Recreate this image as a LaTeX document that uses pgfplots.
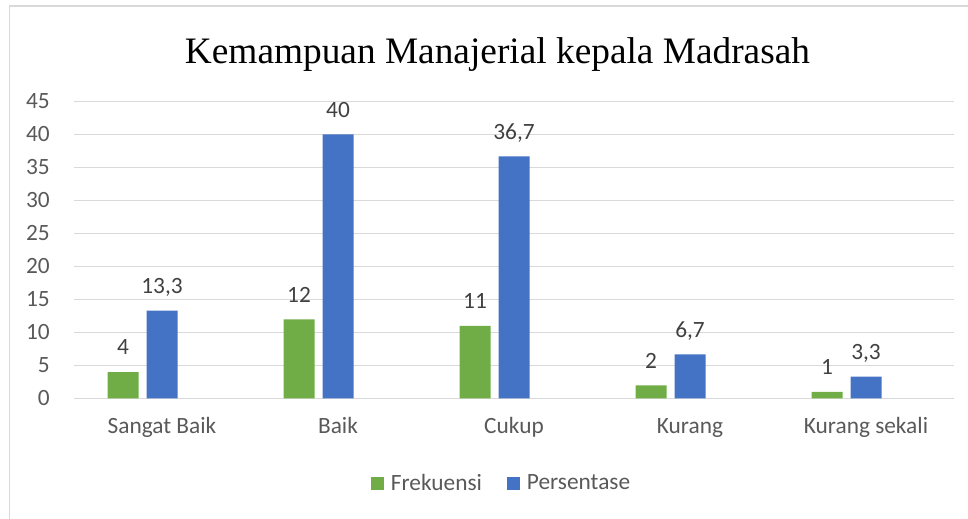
\documentclass[border=0pt]{standalone}
\usepackage{fontspec}
\setmainfont{Carlito}
\newfontfamily\titlefont{Liberation Serif}
\usepackage{pgfplots}
\usepackage{pgfplotstable}
\pgfplotsset{compat=1.18}
\definecolor{cgreen}{HTML}{70AD47}
\definecolor{cblue}{HTML}{4472C4}
\definecolor{tickgray}{HTML}{595959}
\definecolor{labgray}{HTML}{404040}
\definecolor{gridgray}{HTML}{D9D9D9}
\pgfplotstableread{
x y lab
0 4 4
1 12 12
2 11 11
3 2 2
4 1 1
}\frek
\pgfplotstableread{
x y lab
0 13.3 13,3
1 40 40
2 36.7 36,7
3 6.7 6,7
4 3.3 3,3
}\pers
\begin{document}
\begin{tikzpicture}
\path[use as bounding box] (0,0) rectangle (726pt,388.5pt);
\draw[gridgray, line width=1.2pt] (7.1pt,-2pt) -- (7.1pt,384pt) -- (730pt,384pt);
\node[font=\titlefont\fontsize{28}{32}\selectfont, anchor=base, inner sep=0pt] at (373.1pt,340.5pt) {Kemampuan Manajerial kepala Madrasah};
\begin{axis}[
  at={(55.5pt,89.625pt)}, anchor=south west,
  scale only axis, width=660pt, height=222.75pt,
  ybar, bar width=23.25pt,
  xmin=-0.5, xmax=4.5, ymin=0, ymax=45,
  xtick={0,...,4}, xticklabels={Sangat Baik,Baik,Cukup,Kurang,Kurang sekali},
  ytick={0,5,...,45},
  axis line style={draw=none},
  major tick length=0pt,
  ymajorgrids, grid style={gridgray, line width=0.75pt},
  /pgf/number format/assume math mode=true,
  ticklabel style={font=\fontsize{17.5}{21}\selectfont, text=tickgray},
  yticklabel style={anchor=east, inner sep=0pt, xshift=-18pt},
  xticklabel style={anchor=base, inner sep=0pt, yshift=-26.6pt},
  nodes near coords, point meta=explicit symbolic,
  every node near coord/.append style={font=\fontsize{17.5}{21}\selectfont, text=labgray, inner sep=0pt, text depth=0pt, yshift=12.75pt},
  legend columns=2,
  legend style={at={(0.5,0)}, anchor=center, xshift=-10.1pt, yshift=-63.4pt, draw=none, fill=none,
    font=\fontsize{17.5}{21}\selectfont, text=tickgray, nodes={inner sep=0pt},
    /tikz/every odd column/.append style={column sep=5.25pt},
    /tikz/every even column/.append style={column sep=18.75pt}},
  legend image code/.code={\fill[#1] (0pt,-4.875pt) rectangle (9.75pt,4.875pt);},
]
\addplot[fill=cgreen, draw=none, bar shift=-29.25pt] table[x=x, y=y, meta=lab] {\frek};
\addplot[fill=cblue, draw=none, bar shift=0pt] table[x=x, y=y, meta=lab] {\pers};
\legend{Frekuensi, Persentase}
\end{axis}
\end{tikzpicture}
\end{document}
